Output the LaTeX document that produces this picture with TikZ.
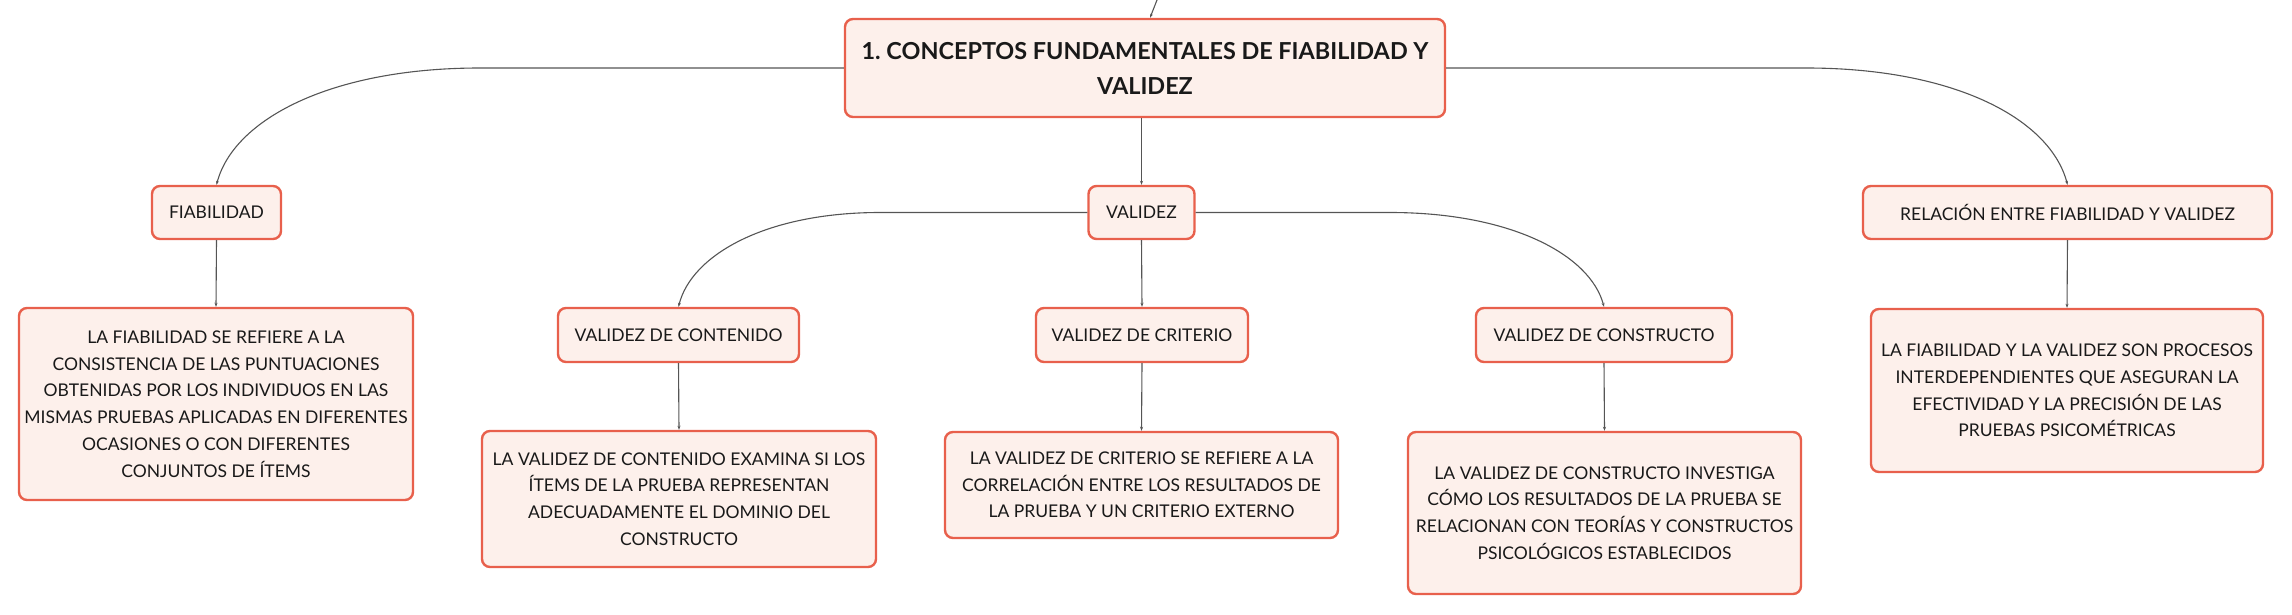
\documentclass[tikz,border=0pt]{standalone}
\usepackage{fontspec}
\setmainfont{Lato}
\usepackage{tikz}
\usepackage{tkz-euclide}
\usetikzlibrary{arrows.meta}
\frenchspacing
\definecolor{boxline}{HTML}{E8604C}
\definecolor{boxfill}{HTML}{FDF0EB}
\definecolor{wire}{HTML}{555555}
\tikzset{
    box/.style={draw=boxline, fill=boxfill, line width=2.4pt, rounded corners=8pt,
        align=center, inner sep=0pt, text=black!90, font=\fontsize{17.5}{26.7}\selectfont},
    title/.style={box, font=\fontsize{23.4}{35}\selectfont\bfseries},
    conn/.style={draw=wire, line width=1.1pt, -{Stealth[length=4pt,width=3pt]}}
}

\begin{document}
\begin{tikzpicture}[x=1pt,y=-1pt]
                        \useasboundingbox (0,0) rectangle (2292,615);

                        \tkzDefPoints{1145/68/R, 1157/0/T}
                        \tkzDefPoints{216.5/212.5/F, 1141.5/212.5/V, 2067.5/212.5/L}
                        \tkzDefPoints{678.5/335/C, 1142/335/K, 1604/335/S}
                        \tkzDefPoints{216/404/FD, 679/499/CD, 1141.5/485/KD, 1604.5/513/SD, 2067/390.5/LD}
                        \tkzDefPoints{480/68/hL, 1806/68/hR, 880/212.5/vL, 1390/212.5/vR}

                        \node[title, minimum width=600pt, minimum height=98pt] (root) at (R)
                            {1. CONCEPTOS FUNDAMENTALES DE FIABILIDAD Y\\VALIDEZ};

                        \node[box, minimum width=129pt, minimum height=53pt] (fia) at (F) {FIABILIDAD};
                        \node[box, minimum width=106pt, minimum height=53pt] (val) at (V) {VALIDEZ};
                        \node[box, minimum width=409pt, minimum height=53pt] (rel) at (L)
                            {RELACIÓN ENTRE FIABILIDAD Y VALIDEZ};

                        \node[box, minimum width=241pt, minimum height=54pt] (con) at (C) {VALIDEZ DE CONTENIDO};
                        \node[box, minimum width=212pt, minimum height=54pt] (cri) at (K) {VALIDEZ DE CRITERIO};
                        \node[box, minimum width=256pt, minimum height=54pt] (cons) at (S) {VALIDEZ DE CONSTRUCTO};

                        \node[box, minimum width=394pt, minimum height=192pt] (fiaD) at (FD)
                            {LA FIABILIDAD SE REFIERE A LA\\CONSISTENCIA DE LAS PUNTUACIONES\\OBTENIDAS POR LOS INDIVIDUOS EN LAS\\MISMAS PRUEBAS APLICADAS EN DIFERENTES\\OCASIONES O CON DIFERENTES\\CONJUNTOS DE ÍTEMS};
                        \node[box, minimum width=394pt, minimum height=136pt] (conD) at (CD)
                            {LA VALIDEZ DE CONTENIDO EXAMINA SI LOS\\ÍTEMS DE LA PRUEBA REPRESENTAN\\ADECUADAMENTE EL DOMINIO DEL\\CONSTRUCTO};
                        \node[box, minimum width=393pt, minimum height=106pt] (criD) at (KD)
                            {LA VALIDEZ DE CRITERIO SE REFIERE A LA\\CORRELACIÓN ENTRE LOS RESULTADOS DE\\LA PRUEBA Y UN CRITERIO EXTERNO};
                        \node[box, minimum width=393pt, minimum height=162pt] (consD) at (SD)
                            {LA VALIDEZ DE CONSTRUCTO INVESTIGA\\CÓMO LOS RESULTADOS DE LA PRUEBA SE\\RELACIONAN CON TEORÍAS Y CONSTRUCTOS\\PSICOLÓGICOS ESTABLECIDOS};
                        \node[box, minimum width=392pt, minimum height=163pt] (relD) at (LD)
                            {LA FIABILIDAD Y LA VALIDEZ SON PROCESOS\\INTERDEPENDIENTES QUE ASEGURAN LA\\EFECTIVIDAD Y LA PRECISIÓN DE LAS\\PRUEBAS PSICOMÉTRICAS};

                        \draw[conn] (T) -- ([xshift=5pt]root.north);
                        \draw[conn] (val.north |- root.south) -- (val.north);
                        \draw[conn] (root.west) -- (hL) .. controls +(-150,0) and +(17,-65) .. (fia.north);
                        \draw[conn] (root.east) -- (hR) .. controls +(150,0) and +(-17,-65) .. (rel.north);

                        \draw[conn] (val.west) -- (vL) .. controls +(-114,0) and +(13,-52) .. (con.north);
                        \draw[conn] (val.south) -- (cri.north);
                        \draw[conn] (val.east) -- (vR) .. controls +(121,0) and +(-14,-52) .. (cons.north);

                        \draw[conn] (fia.south) -- (fiaD.north);
                        \draw[conn] (con.south) -- (conD.north);
                        \draw[conn] (cri.south) -- (criD.north);
                        \draw[conn] (cons.south) -- (consD.north);
                        \draw[conn] (rel.south) -- (relD.north);
                    \end{tikzpicture}
\end{document}
